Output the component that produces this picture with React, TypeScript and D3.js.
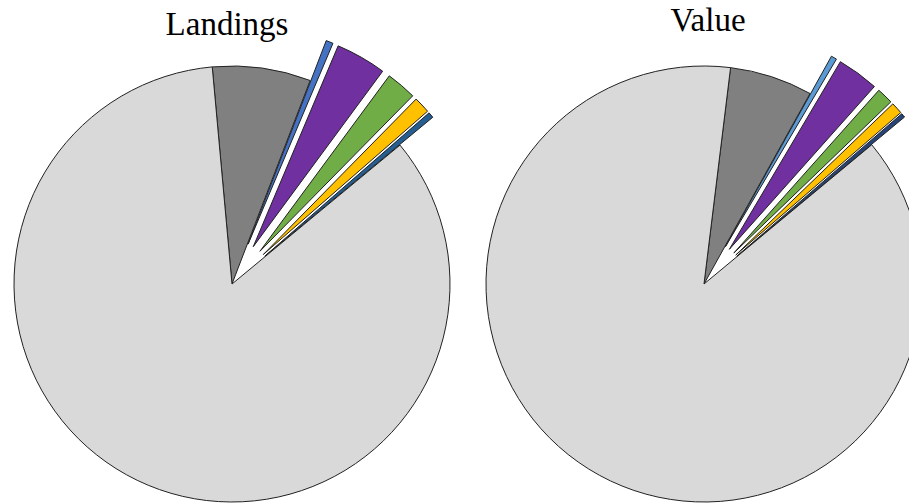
import React from "react";
import * as d3 from "d3";

const categories = ["Category 1", "Category 2", "Category 3", "Category 4", "Category 5", "Category 6", "Category 7"];
const landingsValues = [7.28, 0.53, 3.75, 2.25, 1.22, 0.42, 84.56];
const valueValues = [6.14, 0.42, 3.08, 1.22, 0.86, 0.31, 87.97];
const exploded = [false, true, true, true, true, true, false];
const landingsColors = ["#808080", "#4472C4", "#7030A0", "#70AD47", "#FFC000", "#255E91", "#D9D9D9"];
const valueColors = ["#808080", "#5B9BD5", "#7030A0", "#70AD47", "#FFC000", "#264478", "#D9D9D9"];

const W = 909;
const H = 503;
const R = 218;
const EXPLODE = 43;

type PieProps = { cx: number; cy: number; values: number[]; colors: string[]; startDeg: number; title: string; tx: number; ty: number };

function Pie({ cx, cy, values, colors, startDeg, title, tx, ty }: PieProps) {
  const start = (startDeg * Math.PI) / 180;
  const pie = d3
    .pie<number>()
    .sort(null)
    .value((d) => d)
    .startAngle(start)
    .endAngle(start + 2 * Math.PI);
  const arcs = pie(values);
  const arc = d3.arc<d3.PieArcDatum<number>>().innerRadius(0).outerRadius(R);
  const order = arcs.map((a, i) => i).sort((a, b) => (exploded[a] ? 1 : 0) - (exploded[b] ? 1 : 0));
  return (
    <g>
      <text x={tx} y={ty} textAnchor="middle" fontFamily="'Liberation Serif', 'Times New Roman', serif" fontSize={33} fill="#000">
        {title}
      </text>
      <g transform={`translate(${cx},${cy})`}>
        {order.map((i) => {
          const a = arcs[i];
          const mid = (a.startAngle + a.endAngle) / 2;
          const off = exploded[i] ? EXPLODE : 0;
          const dx = off * Math.sin(mid);
          const dy = -off * Math.cos(mid);
          return (
            <path
              key={categories[i]}
              d={arc(a) || ""}
              transform={`translate(${dx},${dy})`}
              fill={colors[i]}
              stroke="#222"
              strokeWidth={1}
              strokeLinejoin="round"
            />
          );
        })}
      </g>
    </g>
  );
}

export default function App() {
  return (
    <svg width={W} height={H} style={{ position: "absolute", left: 0, top: 0, background: "#fff" }}>
      <rect x={0} y={0} width={W} height={H} fill="#fff" />
      <Pie cx={232} cy={284} values={landingsValues} colors={landingsColors} startDeg={-5.2} title="Landings" tx={227} ty={35} />
      <Pie cx={704} cy={284} values={valueValues} colors={valueColors} startDeg={7.0} title="Value" tx={708} ty={31} />
    </svg>
  );
}
